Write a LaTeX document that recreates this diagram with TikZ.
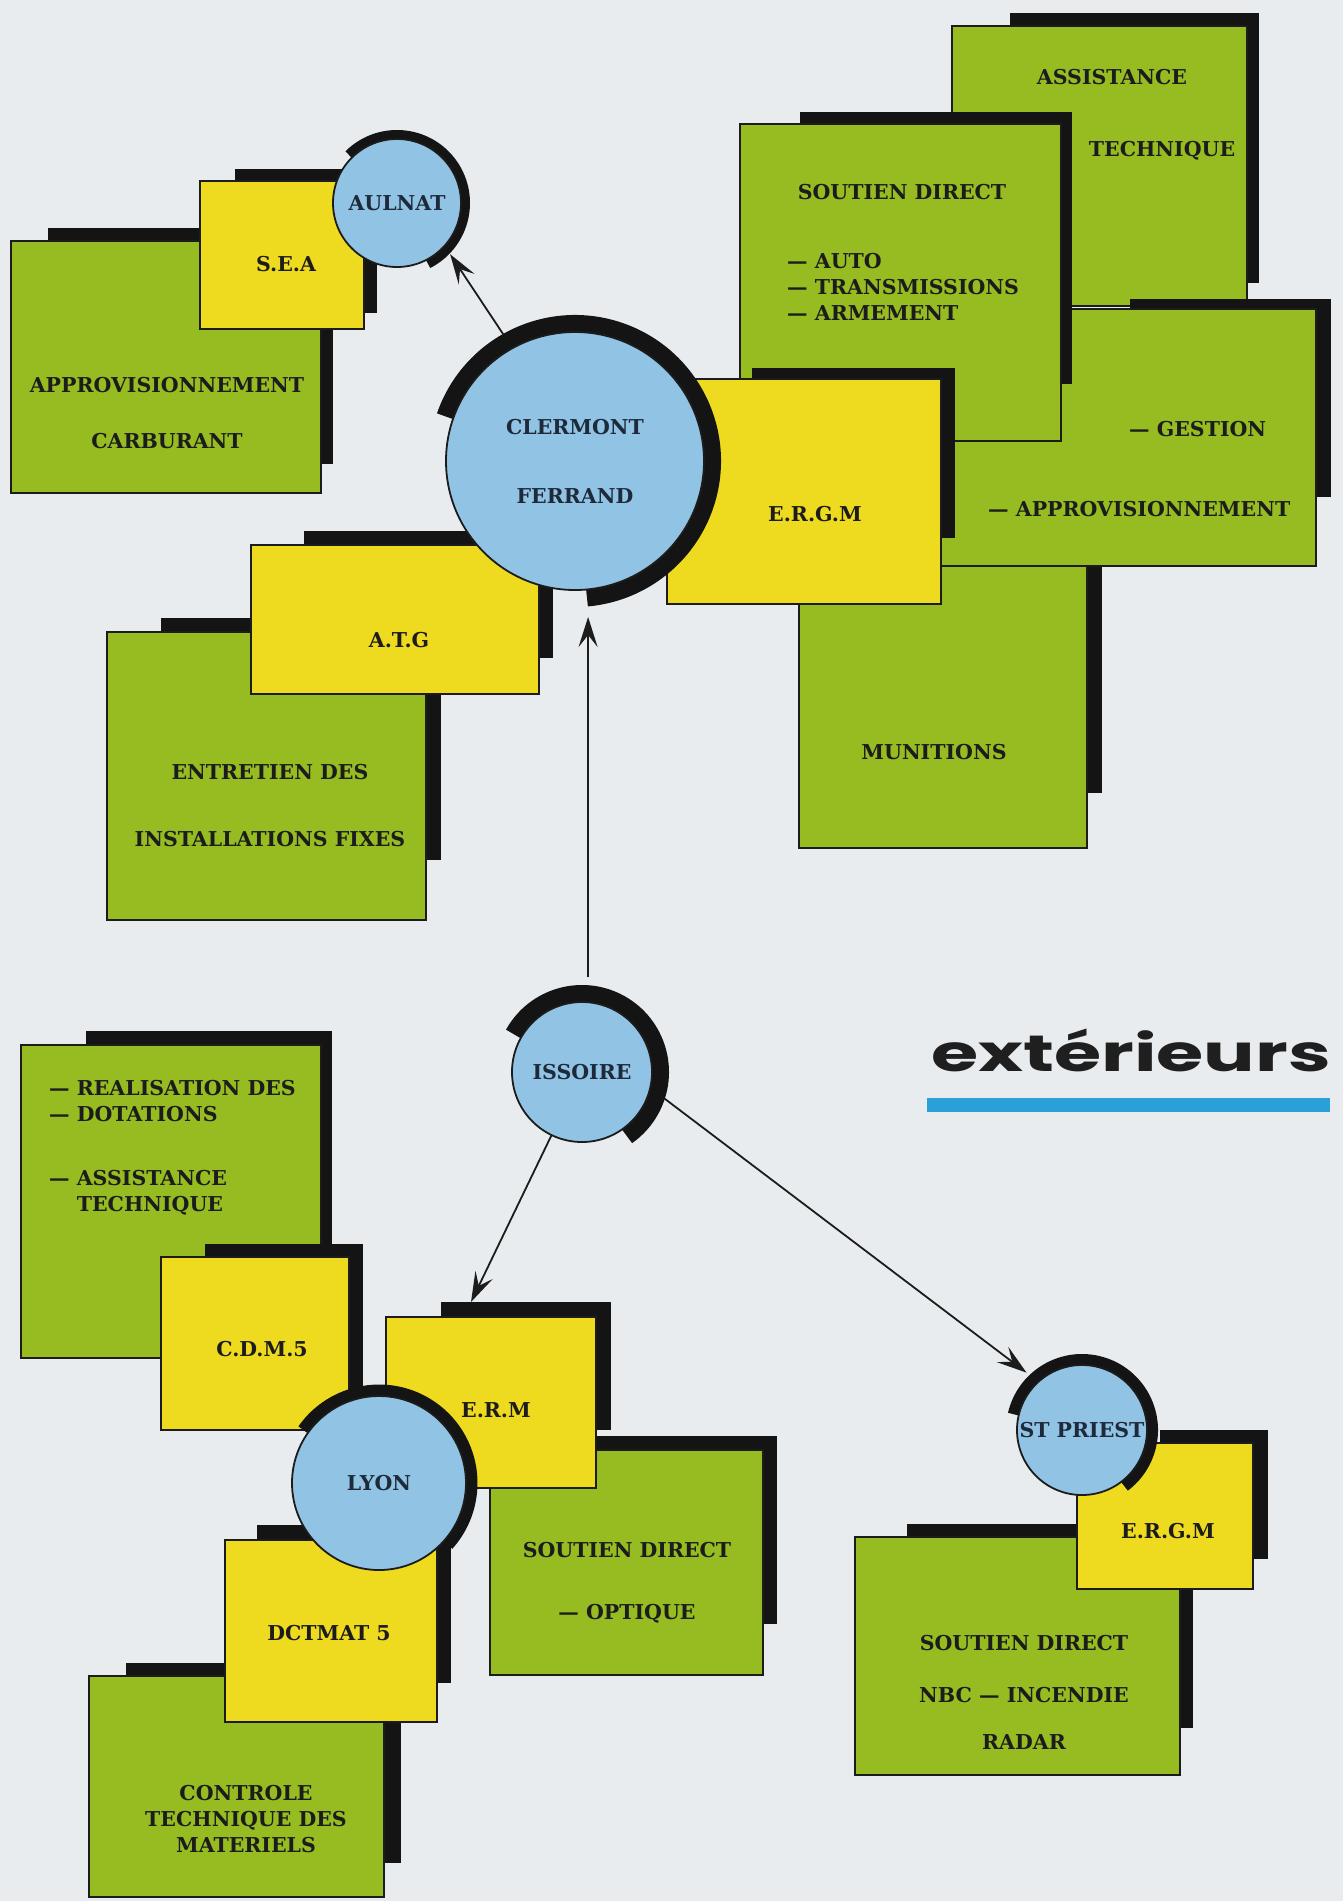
\documentclass[tikz,border=0pt]{standalone}
\usepackage{fontspec}
\setmainfont{DejaVu Serif}
\newfontfamily\titrefont{Poppins}
\usetikzlibrary{arrows.meta}

\definecolor{fond}{RGB}{233,236,238}
\definecolor{vert}{RGB}{150,188,34}
\definecolor{jaune}{RGB}{238,218,30}
\definecolor{ciel}{RGB}{145,196,228}
\definecolor{encre}{RGB}{28,28,28}
\definecolor{marine}{RGB}{30,42,58}
\definecolor{souligne}{RGB}{42,160,216}

\begin{document}
\begin{tikzpicture}[x=1pt, y=-1pt,
  ombre/.style={fill=black!92},
  vertbox/.style={draw=encre, line width=2.4pt, fill=vert},
  jaunebox/.style={draw=encre, line width=2.4pt, fill=jaune},
  rim/.style={draw=black!92},
  ville/.style={circle, draw=encre, line width=1.8pt, fill=ciel, inner sep=0pt, outer sep=0pt,
    text=marine, align=center, font=\fontsize{20.5}{26}\selectfont\bfseries},
  etiq/.style={inner sep=0pt, text=encre, align=center, font=\fontsize{20.5}{26}\selectfont\bfseries},
  fleche/.style={draw=encre, line width=1.8pt, -{Stealth[length=30pt, width=19pt, inset=12pt]}}]

\fill[fond] (0,0) rectangle (1343,1901);

% Aulnat
\fill[ombre] (48,228) rectangle (333,464);
\draw[vertbox] (11,241) rectangle (321,493);
\node[etiq] (carburant) at (167,413) {APPROVISIONNEMENT\\[30pt]CARBURANT};
\fill[ombre] (235,169) rectangle (377,313);
\draw[jaunebox] (200,181) rectangle (364,329);
\node[etiq] (sea) at (286,264) {S.E.A};
\draw[rim, line width=10pt] (397,203) ++(225:68) arc[start angle=225, end angle=423, radius=68];
\node[ville, minimum size=128pt] (aulnat) at (397,203) {AULNAT};

% Clermont, cote gauche
\fill[ombre] (161,618) rectangle (441,860);
\draw[vertbox] (107,632) rectangle (426,920);
\node[etiq] (entretien) at (270,806) {ENTRETIEN DES\\[41pt]INSTALLATIONS FIXES};
\fill[ombre] (304,531) rectangle (553,658);
\draw[jaunebox] (251,545) rectangle (539,694);
\node[etiq] (atg) at (399,640) {A.T.G};

% Clermont, cote droit
\fill[ombre] (850,505) rectangle (1102,793);
\draw[vertbox] (799,520) rectangle (1087,848);
\node[etiq] (munitions) at (934,752) {MUNITIONS};
\fill[ombre] (1010,13) rectangle (1259,283);
\draw[vertbox] (952,26) rectangle (1247,306);
\node[etiq] (assistance) at (1112,77) {ASSISTANCE};
\node[etiq] (technique) at (1162,151) {TECHNIQUE};
\fill[ombre] (1130,299) rectangle (1331,497);
\draw[vertbox] (880,309) rectangle (1316,566);
\node[etiq, anchor=west] (gestion) at (1129,429) {— GESTION};
\node[etiq, anchor=west] (appro) at (988,509) {— APPROVISIONNEMENT};
\fill[ombre] (800,112) rectangle (1072,384);
\draw[vertbox] (740,124) rectangle (1061,441);
\node[etiq] (soutien) at (902,192) {SOUTIEN DIRECT};
\node[etiq, anchor=west, align=left] (auto) at (787,287) {— AUTO\\— TRANSMISSIONS\\— ARMEMENT};
\fill[ombre] (752,368) rectangle (955,538);
\draw[jaunebox] (667,379) rectangle (941,604);
\node[etiq] (ergm) at (815,514) {E.R.G.M};
\draw[rim, line width=18pt] (575,461) ++(199:137) arc[start angle=199, end angle=445, radius=137];
\node[ville, minimum size=258pt] (clermont) at (575,461) {CLERMONT\\[43pt]FERRAND};

% Issoire
\draw[rim, line width=18pt] (582,1072) ++(209:78) arc[start angle=209, end angle=415, radius=78];
\node[ville, minimum size=140pt] (issoire) at (582,1072) {ISSOIRE};

% Lyon
\fill[ombre] (86,1031) rectangle (332,1300);
\draw[vertbox] (21,1045) rectangle (321,1358);
\node[etiq, anchor=west, align=left] (dotations) at (49,1148)
  {— REALISATION DES\\— DOTATIONS\\[38pt]— ASSISTANCE\\\phantom{— }TECHNIQUE};
\fill[ombre] (205,1244) rectangle (363,1392);
\draw[jaunebox] (161,1257) rectangle (349,1430);
\node[etiq] (cdm) at (262,1349) {C.D.M.5};
\fill[ombre] (530,1436) rectangle (777,1624);
\draw[vertbox] (490,1450) rectangle (763,1675);
\node[etiq] (optique) at (627,1583) {SOUTIEN DIRECT\\[36pt]— OPTIQUE};
\fill[ombre] (441,1302) rectangle (611,1430);
\draw[jaunebox] (386,1317) rectangle (596,1488);
\node[etiq] (erm) at (496,1410) {E.R.M};
\fill[ombre] (126,1663) rectangle (401,1863);
\draw[vertbox] (89,1676) rectangle (384,1897);
\node[etiq] (controle) at (246,1819) {CONTROLE\\TECHNIQUE DES\\MATERIELS};
\fill[ombre] (257,1525) rectangle (451,1683);
\draw[jaunebox] (225,1540) rectangle (437,1722);
\node[etiq] (dctmat) at (329,1633) {DCTMAT 5};
\draw[rim, line width=13pt] (379,1483) ++(215:92) arc[start angle=215, end angle=402, radius=92];
\node[ville, minimum size=174pt] (lyon) at (379,1483) {LYON};

% St Priest
\fill[ombre] (907,1524) rectangle (1193,1728);
\draw[vertbox] (855,1537) rectangle (1180,1775);
\node[etiq] (nbc) at (1024,1692) {SOUTIEN DIRECT\\[26pt]NBC — INCENDIE\\[21pt]RADAR};
\fill[ombre] (1160,1430) rectangle (1268,1559);
\draw[jaunebox] (1077,1443) rectangle (1253,1589);
\node[etiq] (ergmsp) at (1168,1531) {E.R.G.M};
\draw[rim, line width=12pt] (1082,1430) ++(193:70) arc[start angle=193, end angle=413, radius=70];
\node[ville, minimum size=130pt] (stpriest) at (1082,1430) {ST PRIEST};

% titre
\node[anchor=base, xscale=1.5, text=black!88, font=\titrefont\bfseries\fontsize{51}{51}\selectfont] (titre) at (1131,1071) {extérieurs};
\fill[souligne] (927,1098) rectangle (1330,1112);

% fleches
\coordinate (ermhaut) at (471,1302);
\draw[fleche, shorten <=16pt, shorten >=10pt] (clermont.119) -- (aulnat.-42);
\draw[fleche, shorten <=25pt, shorten >=27pt] (issoire.85) -- (issoire.85 |- clermont.south);
\draw[fleche] (issoire) -- (ermhaut);
\draw[fleche, shorten <=18pt, shorten >=15pt] (issoire.-13) -- (stpriest.132);
\end{tikzpicture}
\end{document}
